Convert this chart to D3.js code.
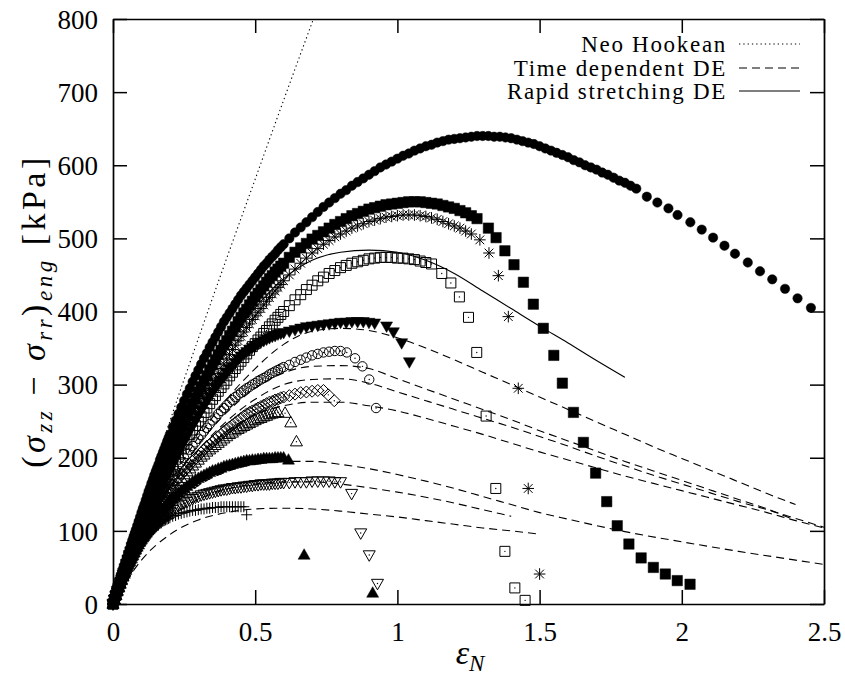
<!DOCTYPE html>
<html><head><meta charset="utf-8">
<script src="https://cdn.jsdelivr.net/npm/d3@7"></script>
<style>
body{margin:0;background:#fff}
svg text{font-family:"Liberation Serif","DejaVu Serif","Tinos","Nimbus Roman","FreeSerif",serif;fill:#000}
</style></head>
<body><svg id="c" width="845" height="676"></svg>
<script>
// ---------------- DATA ----------------
const xTicks = [0, 0.5, 1, 1.5, 2, 2.5];
const xTickLabels = ["0", "0.5", "1", "1.5", "2", "2.5"];
const yTicks = [0, 100, 200, 300, 400, 500, 600, 700, 800];
const yTickLabels = ["0", "100", "200", "300", "400", "500", "600", "700", "800"];
const legendLabels = ["Neo Hookean", "Time dependent DE", "Rapid stretching DE"];

// strain grid of the densely sampled measurements
const epsGrid = [0,0.005,0.01,0.015,0.02,0.025,0.03,0.035,0.04,0.045,0.05,0.055,0.06,0.065,0.07,0.075,0.08,0.085,0.09,0.095,
0.1,0.105,0.11,0.115,0.12,0.125,0.13,0.135,0.14,0.145,0.15,0.155,0.16,0.165,0.17,0.175,0.18,0.185,0.19,0.195,0.2,
0.21,0.22,0.23,0.24,0.25,0.26,0.27,0.28,0.29,0.3,0.31,0.32,0.33,0.34,0.35,0.36,0.37,0.38,0.39,0.4,
0.41,0.42,0.43,0.44,0.45,0.46,0.47,0.48,0.49,0.5,0.51,0.52,0.53,0.54,0.55,0.56,0.57,0.58,0.59,0.6,
0.62,0.64,0.66,0.68,0.7,0.72,0.74,0.76,0.78,0.8,0.82,0.84,0.86,0.88,0.9,0.92,0.94,0.96,0.98,1,
1.02,1.04,1.06,1.08,1.1,1.12,1.14,1.16,1.18,1.2,1.22,1.24,1.26,1.28,1.3,1.32,1.34,1.36,1.38,1.4,
1.42,1.44,1.46,1.48,1.5,1.52,1.54,1.56,1.58,1.6,1.62,1.64,1.66,1.68,1.7,1.72,1.74,1.76,1.78,1.8,1.82,1.84];

// dense parts (stress, kPa, on epsGrid)
const sFilledCircle = [0,7,13,20,26,33,39,45,51,58,64,70,76,83,89,95,101,107,113,119,125,131,136,142,148,154,159,165,170,176,181,186,191,197,202,207,212,217,222,227,232,
242,251,260,269,278,287,295,304,312,320,328,336,343,351,358,365,372,379,386,392,
398,404,410,416,422,427,432,437,442,447,452,457,462,466,471,475,479,484,488,492,
500,508,515,522,529,536,543,549,555,561,566,572,577,582,587,592,597,601,605,609,
613,616,620,623,626,628,631,633,635,636,637,638,639,640,640,640,639,639,638,637,
635,633,631,629,626,623,620,617,614,611,607,604,600,597,594,590,587,583,579,576,572,568];
const sFilledSquare = [0,6,12,18,24,30,36,42,48,54,60,66,71,77,82,88,93,98,103,108,113,118,123,128,133,138,143,148,153,158,162,167,171,176,180,185,189,194,198,203,207,
216,225,234,242,250,258,266,274,282,290,297,305,312,320,327,334,341,347,354,360,
367,373,379,386,392,398,403,409,414,420,425,430,435,440,445,449,454,458,462,466,
474,481,487,493,499,504,509,514,519,523,527,531,534,537,540,542,544,546,547,548,
549,550,550,550,549,548,547,545,543,541,538,535,531,527];
const sAsterisk = [0,6,12,18,23,29,34,40,45,51,56,61,66,71,76,81,86,91,96,101,106,111,115,120,124,129,133,138,142,147,151,155,159,163,167,171,175,179,183,187,191,
199,207,215,223,231,238,246,253,260,267,274,281,288,295,302,308,315,322,328,335,
341,348,354,360,366,372,378,383,389,394,399,404,409,414,419,424,428,433,437,442,
450,458,466,473,480,486,492,497,502,506,510,514,517,520,523,525,527,529,530,531,
532,532,532,531,530,528,526,523,520,517,514,510,506];
const sOpenSquare = [0,6,12,18,23,29,34,40,45,50,55,60,65,70,75,80,85,90,94,99,103,108,112,117,121,126,130,134,138,142,146,150,154,158,162,166,170,174,177,181,184,
191,198,205,212,219,225,232,238,244,250,256,262,268,274,280,285,291,296,301,306,
312,317,322,327,332,337,342,347,352,356,361,365,370,374,379,383,388,392,396,400,
408,416,423,430,436,442,447,452,456,460,463,466,468,470,472,473,474,474,474,473,
473,472,471,469,467,465];
const sFilledTriDown = [0,6,12,18,23,29,34,40,45,50,55,60,65,70,75,80,84,89,93,98,102,107,111,116,120,125,129,133,137,141,145,149,153,157,161,165,169,173,176,180,183,
191,199,207,215,222,229,237,244,251,258,265,271,278,284,290,296,301,306,311,316,
321,325,330,335,339,342,345,348,351,353,356,358,360,362,364,366,367,369,370,371,
373,375,377,379,380,381,382,383,384,385,385,386,386,386,385,384];
const sOpenCircle = [0,6,12,18,23,29,34,39,44,49,54,59,64,69,73,78,82,87,91,95,99,103,107,111,115,119,123,127,130,134,137,141,144,148,151,155,158,161,164,167,170,
176,182,188,194,200,205,211,216,221,226,231,236,241,246,251,255,260,264,268,272,
276,279,283,286,289,292,295,297,300,302,305,307,309,311,314,316,318,320,322,324,
327,331,334,337,340,342,344,345,346,346];
const sOpenDiamond = [0,6,12,18,23,28,33,38,43,48,52,57,61,66,70,74,78,82,86,90,94,98,101,105,108,112,115,119,122,125,128,131,134,137,140,143,146,149,152,155,157,
162,167,172,177,182,186,191,195,199,203,207,211,215,218,222,225,229,232,236,239,
242,245,248,251,254,257,260,262,264,266,268,270,272,274,276,277,279,280,282,283,
285,287,289,290,291,292,292];
const sOpenTriUp = [0,6,12,18,23,28,33,38,43,48,52,57,61,65,69,73,77,81,85,89,92,96,99,103,106,110,113,116,119,122,125,128,131,134,137,140,143,146,148,151,153,
158,163,168,172,177,181,185,189,193,197,201,204,208,211,214,217,220,223,226,229,
232,234,237,239,241,243,245,247,249,251,253,254,256,257,259,260,261,262];
const sFilledTriUp = [0,6,12,17,22,27,32,37,41,46,50,54,58,62,66,70,74,78,81,85,88,91,94,97,100,103,106,109,112,115,117,120,122,125,127,130,132,134,136,138,140,
144,148,152,155,158,161,164,167,170,172,174,176,178,180,182,183,185,186,188,189,
190,191,192,193,194,195,196,196,197,197,198,198,199,199,199,199,200,200,200,200];
const sOpenTriDown = [0,6,11,16,21,26,31,36,40,44,48,52,56,60,63,67,70,74,77,80,83,86,89,92,94,97,99,102,104,106,108,110,112,114,116,118,120,122,123,125,126,
129,131,134,136,138,140,142,144,146,147,149,150,151,152,153,154,155,156,157,157,
158,159,159,160,160,161,161,162,162,163,163,164,164,164,164,165,165,165,166,166,
166,167,167,167,168,168,168,168,167,167];
const sPlus = [0,6,11,16,21,26,31,36,40,44,48,52,56,60,63,67,70,73,76,79,82,85,87,90,92,95,97,99,101,103,105,107,108,110,111,113,114,115,116,117,118,
120,121,123,124,125,126,127,128,128,129,130,130,131,131,132,132,132,133,133,133,
133,133,133,133,133,133];

// sparse final points [strain, stress]
const tFilledCircle = [[1.877,557],[1.914,549],[1.953,541],[1.985,532],[2.03,522],[2.07,512],[2.11,501],[2.15,490],[2.187,479],[2.232,467],[2.275,455],[2.318,444],[2.363,431],[2.407,418],[2.454,405]];
const tFilledSquare = [[1.32,514],[1.347,501],[1.378,483],[1.41,464],[1.443,440],[1.478,410],[1.513,377],[1.55,340],[1.58,302],[1.619,262],[1.654,221],[1.697,179],[1.736,140],[1.773,107],[1.814,82],[1.857,63],[1.9,50],[1.942,41],[1.984,32],[2.029,27]];
const tAsterisk = [[1.29,498],[1.322,480],[1.355,449],[1.39,393],[1.425,295],[1.46,158],[1.5,41]];
const tOpenSquare = [[1.156,452],[1.188,439],[1.218,420],[1.25,392],[1.279,344],[1.312,257],[1.346,158],[1.378,72],[1.413,22],[1.449,5]];
const tFilledTriDown = [[0.962,380],[0.986,372],[1.015,357],[1.042,331]];
const tOpenCircle = [[0.822,344],[0.851,336],[0.877,325],[0.901,307],[0.925,268]];
const tOpenDiamond = [[0.757,286],[0.778,278]];
const tOpenTriUp = [[0.605,261],[0.625,248],[0.645,222]];
const tFilledTriUp = [[0.617,197],[0.672,67],[0.913,15]];
const tOpenTriDown = [[0.839,151],[0.871,97],[0.901,67],[0.93,28]];
const tPlus = [[0.47,122]];

// model curves [strain, stress]
const neoHookean = [[0,0],[0.1,130],[0.2,250],[0.3,363],[0.4,473],[0.5,581],[0.6,689],[0.7,795],[0.72,816]];
const rapidDE = [[0,0],[0.1,112],[0.2,205],[0.3,285],[0.4,352],[0.5,405],[0.6,445],[0.7,470],[0.8,481],[0.9,484],[1.0,481],[1.1,470],[1.2,452],[1.3,428],[1.4,404],[1.5,380],[1.6,357],[1.7,333],[1.8,310]];
const timeDE_a = [[0,0],[0.1,90],[0.2,165],[0.3,228],[0.4,280],[0.5,322],[0.6,355],[0.7,373],[0.8,377],[0.9,374],[1.0,364],[1.1,350],[1.2,334],[1.3,317],[1.4,300],[1.5,283],[1.6,266],[1.7,249],[1.8,232],[1.9,215],[2.0,199],[2.1,183],[2.2,167],[2.3,151],[2.4,136]];
const timeDE_b = [[0,0],[0.1,88],[0.2,160],[0.3,218],[0.4,262],[0.5,295],[0.6,316],[0.7,325],[0.8,326],[0.9,322],[1.0,308],[1.1,294],[1.2,280],[1.3,266],[1.4,252],[1.5,237],[1.6,223],[1.7,209],[1.8,195],[1.9,182],[2.0,169],[2.1,156],[2.2,143],[2.3,130],[2.39,116]];
const timeDE_c = [[0,0],[0.1,86],[0.2,155],[0.3,210],[0.4,250],[0.5,280],[0.6,300],[0.7,307],[0.8,308],[0.9,302],[1.0,290],[1.1,278],[1.2,266],[1.3,254],[1.4,242],[1.5,229],[1.6,216],[1.7,202],[1.8,189],[1.9,176],[2.0,164],[2.1,152],[2.2,140],[2.3,129],[2.4,117],[2.5,105]];
const timeDE_d = [[0,0],[0.1,84],[0.2,150],[0.3,200],[0.4,236],[0.5,259],[0.6,271],[0.7,276],[0.8,276],[0.9,271],[1.0,264],[1.1,254],[1.2,243],[1.3,232],[1.4,220],[1.5,208],[1.6,197],[1.7,186],[1.8,175],[1.9,165],[2.0,155],[2.1,145],[2.2,135],[2.3,125],[2.4,114],[2.5,104]];
const timeDE_e = [[0,0],[0.1,80],[0.2,130],[0.3,162],[0.4,181],[0.5,191],[0.6,195],[0.7,195],[0.8,191],[0.9,185],[1.0,177],[1.1,168],[1.2,158],[1.3,147],[1.4,136],[1.5,125],[1.6,116],[1.8,99],[2.0,85],[2.2,72],[2.4,60],[2.5,54]];
const timeDE_f = [[0,0],[0.1,75],[0.2,118],[0.3,143],[0.4,157],[0.5,164],[0.6,167],[0.7,167],[0.8,164],[0.9,159],[1.0,153],[1.1,146],[1.2,138],[1.3,129],[1.4,120]];
const timeDE_g = [[0,0],[0.1,60],[0.2,95],[0.3,115],[0.4,125],[0.5,130],[0.6,131],[0.7,130],[0.8,127],[0.9,123],[1.0,119],[1.1,114],[1.2,109],[1.3,104],[1.4,100],[1.49,96]];

// ---------------- DRAW ----------------
const svg = d3.select("#c");
const L = 113, R = 824, T = 19, B = 604;
const x = d3.scaleLinear().domain([0, 2.5]).range([L, R]);
const y = d3.scaleLinear().domain([0, 800]).range([B, T]);

const shapes = {
  circle: r => `M${r},0A${r},${r} 0 1,1 ${-r},0A${r},${r} 0 1,1 ${r},0Z`,
  square: h => `M${-h},${-h}H${h}V${h}H${-h}Z`,
  triUp: s => `M0,${-s*1.05}L${s},${s*0.7}L${-s},${s*0.7}Z`,
  triDown: s => `M0,${s*1.05}L${s},${-s*0.7}L${-s},${-s*0.7}Z`,
  diamond: s => `M0,${-s}L${s},0L0,${s}L${-s},0Z`,
  plus: s => `M${-s},0H${s}M0,${-s}V${s}`,
  star: s => `M${-s},0H${s}M0,${-s}V${s}M${-s*0.75},${-s*0.75}L${s*0.75},${s*0.75}M${-s*0.75},${s*0.75}L${s*0.75},${-s*0.75}`
};

const series = [
  {ys: sFilledCircle, tail: tFilledCircle, shape: "circle", size: 4.7, kind: "filled"},
  {ys: sFilledSquare, tail: tFilledSquare, shape: "square", size: 5.2, kind: "filled"},
  {ys: sAsterisk, tail: tAsterisk, shape: "star", size: 5.8, kind: "stroke"},
  {ys: sOpenSquare, tail: tOpenSquare, shape: "square", size: 5, kind: "open"},
  {ys: sFilledTriDown, tail: tFilledTriDown, shape: "triDown", size: 6, kind: "filled"},
  {ys: sOpenCircle, tail: tOpenCircle, shape: "circle", size: 4.7, kind: "open"},
  {ys: sOpenDiamond, tail: tOpenDiamond, shape: "diamond", size: 6, kind: "open"},
  {ys: sOpenTriUp, tail: tOpenTriUp, shape: "triUp", size: 6, kind: "open"},
  {ys: sFilledTriUp, tail: tFilledTriUp, shape: "triUp", size: 6, kind: "filled"},
  {ys: sOpenTriDown, tail: tOpenTriDown, shape: "triDown", size: 6, kind: "open"},
  {ys: sPlus, tail: tPlus, shape: "plus", size: 5.5, kind: "stroke"}
];

const gm = svg.append("g");
series.forEach(s => {
  const pts = s.ys.map((v, i) => [epsGrid[i], v]).concat(s.tail);
  const d = shapes[s.shape](s.size);
  const g = gm.append("g");
  g.selectAll("path").data(pts).join("path")
    .attr("transform", p => `translate(${x(p[0])},${y(p[1])})`)
    .attr("d", d)
    .attr("fill", s.kind === "filled" ? "#000" : "none")
    .attr("stroke", "#000")
    .attr("stroke-width", s.kind === "filled" ? 0.5 : 1);
  if (s.kind === "open") {
    g.selectAll("circle").data(pts).join("circle")
      .attr("cx", p => x(p[0])).attr("cy", p => y(p[1])).attr("r", 0.7).attr("fill", "#000");
  }
});

svg.append("clipPath").attr("id", "clip").append("rect")
  .attr("x", L).attr("y", T).attr("width", R - L).attr("height", B - T);

const line = d3.line().x(p => x(p[0])).y(p => y(p[1])).curve(d3.curveMonotoneX);
const gl = svg.append("g").attr("clip-path", "url(#clip)");
gl.append("path").datum(neoHookean).attr("d", line).attr("fill", "none")
  .attr("stroke", "#000").attr("stroke-width", 1.1).attr("stroke-dasharray", "1.3,3");
[timeDE_a, timeDE_b, timeDE_c, timeDE_d, timeDE_e, timeDE_f, timeDE_g].forEach(dd => {
  gl.append("path").datum(dd).attr("d", line).attr("fill", "none")
    .attr("stroke", "#000").attr("stroke-width", 1.1).attr("stroke-dasharray", "8,5");
});
gl.append("path").datum(rapidDE).attr("d", line).attr("fill", "none")
  .attr("stroke", "#000").attr("stroke-width", 1.1);

// axes (ticks inward)
const axStyle = g => { g.attr("font-family", null);
  g.selectAll("path.domain").attr("stroke", "#000").attr("stroke-width", 1.7).attr("fill", "none");
  g.selectAll(".tick line").attr("stroke", "#000").attr("stroke-width", 1.5); };
svg.append("g").attr("transform", `translate(0,${B})`)
  .call(d3.axisBottom(x).tickValues(xTicks).tickSize(-14).tickSizeOuter(0).tickFormat((d, i) => xTickLabels[i]).tickPadding(22))
  .call(axStyle)
  .call(g => g.selectAll("text").attr("font-size", 27).attr("dy", "0.55em"));
svg.append("g").attr("transform", `translate(0,${T})`)
  .call(d3.axisTop(x).tickValues(xTicks).tickSize(-14).tickSizeOuter(0).tickFormat(""))
  .call(axStyle);
svg.append("g").attr("transform", `translate(${L},0)`)
  .call(d3.axisLeft(y).tickValues(yTicks).tickSize(-14).tickSizeOuter(0).tickFormat((d, i) => yTickLabels[i]).tickPadding(15))
  .call(axStyle)
  .call(g => g.selectAll("text").attr("font-size", 27).attr("dy", "0.34em"));
svg.append("g").attr("transform", `translate(${R},0)`)
  .call(d3.axisRight(y).tickValues(yTicks).tickSize(-14).tickSizeOuter(0).tickFormat(""))
  .call(axStyle);
svg.selectAll(".tick text").attr("fill", "#000");

// axis titles
const xt = svg.append("text").attr("x", 470).attr("y", 664).attr("text-anchor", "middle").attr("font-size", 34);
xt.append("tspan").attr("font-style", "italic").text("ε");
xt.append("tspan").attr("font-style", "italic").attr("font-size", 23).attr("dy", 7).text("N");

const yt = svg.append("text").attr("transform", "translate(45,311) rotate(-90)").attr("text-anchor", "middle")
  .attr("font-size", 34).attr("letter-spacing", 3.5);
yt.append("tspan").text("(");
yt.append("tspan").attr("font-style", "italic").text("σ");
yt.append("tspan").attr("font-style", "italic").attr("font-size", 23).attr("dy", 7).text("zz");
yt.append("tspan").attr("dy", -7).text("\u00A0−\u00A0");
yt.append("tspan").attr("font-style", "italic").text("σ");
yt.append("tspan").attr("font-style", "italic").attr("font-size", 23).attr("dy", 7).text("rr");
yt.append("tspan").attr("dy", -7).text(")");
yt.append("tspan").attr("font-style", "italic").attr("font-size", 23).attr("dy", 7).text("eng");
yt.append("tspan").attr("dy", -7).text("\u00A0[kPa]");

// legend
const legY = [44, 68, 91];
const legDash = ["1.3,3", "8,5", null];
legendLabels.forEach((lab, i) => {
  svg.append("text").attr("x", 727).attr("y", legY[i] + 8).attr("text-anchor", "end")
    .attr("font-size", 23).attr("letter-spacing", 1.7).text(lab);
  const ln = svg.append("line").attr("x1", 739).attr("x2", 800).attr("y1", legY[i]).attr("y2", legY[i])
    .attr("stroke", "#000").attr("stroke-width", 1.1);
  if (legDash[i]) ln.attr("stroke-dasharray", legDash[i]);
});
</script></body></html>
